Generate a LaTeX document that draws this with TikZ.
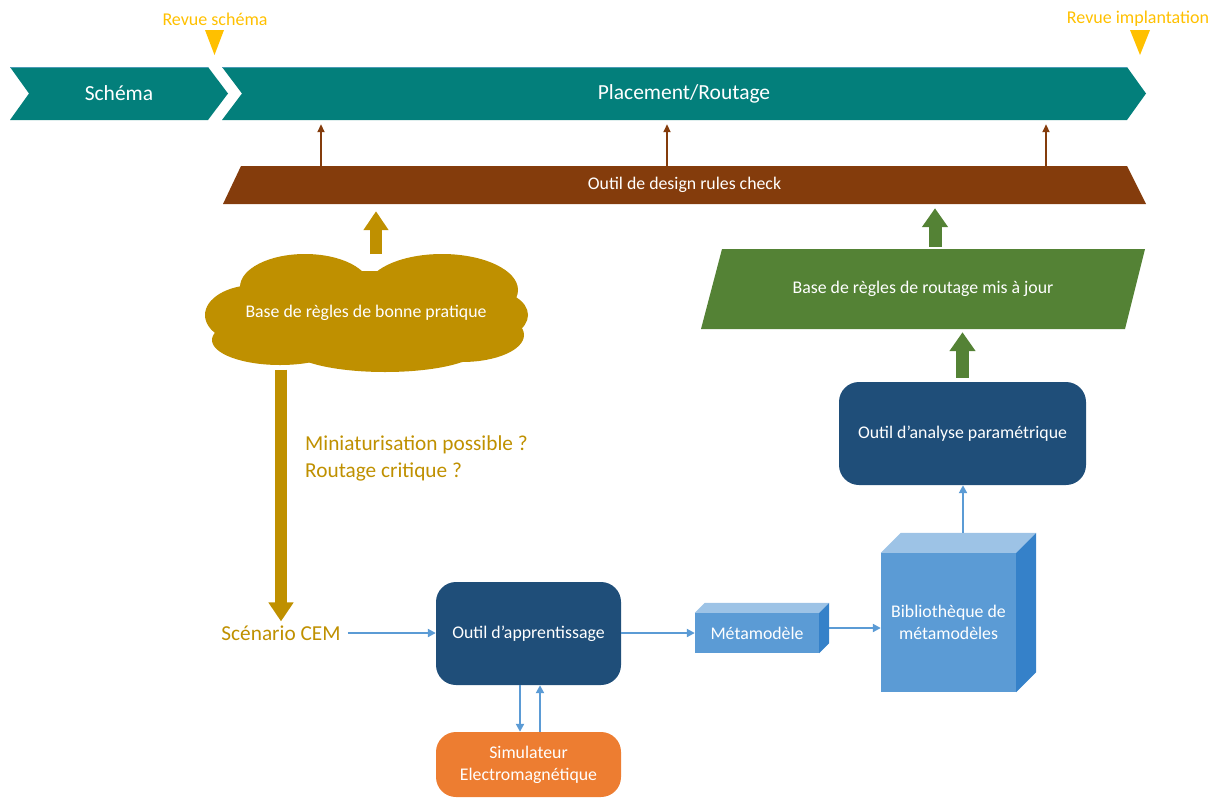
\documentclass[tikz,border=0pt]{standalone}
\usepackage{fontspec}
\setmainfont{Carlito}
\usetikzlibrary{arrows.meta,calc}
\definecolor{tealc}{HTML}{037F7B}
\definecolor{tealedge}{HTML}{4A9BB5}
\definecolor{yel}{HTML}{FFC000}
\definecolor{brownc}{HTML}{843C0C}
\definecolor{goldc}{HTML}{BF9000}
\definecolor{greenc}{HTML}{548235}
\definecolor{dkblue}{HTML}{1F4E79}
\definecolor{orangec}{HTML}{ED7D31}
\definecolor{bluec}{HTML}{5B9BD5}
\definecolor{ltblue}{HTML}{9DC3E6}
\definecolor{sideblue}{HTML}{3581C9}
\begin{document}
\begin{tikzpicture}[x=1pt,y=-1pt,
  wtext/.style={text=white,font=\fontsize{17.8}{22}\selectfont,align=center},
  bigw/.style={text=white,font=\fontsize{21.5}{25}\selectfont},
  rbox/.style={rectangle,rounded corners=20pt,fill=dkblue,wtext,minimum width=185pt,minimum height=103pt,inner sep=0pt},
  ghost/.style={rectangle,inner sep=0pt},
  barrow/.style={draw=bluec,line width=2pt,-{Triangle[length=8pt,width=8pt]}},
  brarrow/.style={draw=brownc,line width=1.8pt,-{Triangle[length=8pt,width=7pt]}},
  fatgold/.style={draw=goldc,line width=12pt,-{Triangle[length=19pt,width=24pt]}},
  fatgreen/.style={draw=greenc,line width=13pt,-{Triangle[length=19pt,width=25pt]}},
  revue/.style={text=yel,font=\fontsize{18}{21}\selectfont},
  goldtext/.style={text=goldc,font=\fontsize{21.3}{27}\selectfont,align=left},
  cube/.style={rectangle,fill=bluec,wtext,inner sep=0pt}
]
\useasboundingbox (0,0) rectangle (1214,798);

% ---- timeline chevrons
\fill[tealc] (10,67) -- (208,67) -- (228,93.5) -- (208,120) -- (10,120) -- (29,93.5) -- cycle;
\fill[tealc] (222,67) -- (1127,67) -- (1146,93.5) -- (1127,120) -- (222,120) -- (242,93.5) -- cycle;
\draw[tealedge,line width=0.6pt] (10,67) -- (208,67);
\draw[tealedge,line width=0.6pt] (222,67) -- (1127,67);
\node[ghost,bigw,minimum width=218pt,minimum height=53pt] (sch) at (119,93.5) {Schéma};
\node[ghost,bigw,minimum width=924pt,minimum height=53pt] (pl) at (684,93.5) {Placement/Routage};

% ---- review markers
\node[revue] (rs) at (215,19) {Revue schéma};
\fill[yel] (205,30) -- (224,30) -- (214.5,55) -- cycle;
\node[revue] (ri) at (1138,19) {Revue implantation};
\fill[yel] (1130,30) -- (1150,30) -- (1140,55) -- cycle;

% ---- DRC trapezoid
\fill[brownc] (241,166) -- (1127,166) -- (1146,204) -- (223,204) -- cycle;
\node[ghost,wtext,minimum width=886pt,minimum height=38pt] (drc) at (684.5,185) {Outil de design rules check};
\coordinate (b1) at (321,0);
\coordinate (b2) at (667,0);
\coordinate (b3) at (1046,0);
\foreach \c in {b1,b2,b3}
  \draw[brarrow,shorten >=4pt] (drc.north -| \c) -- (pl.south -| \c);

% ---- cloud
\begin{scope}[goldc]
\fill (305,287) ellipse [x radius=65, y radius=33];
\fill (442,290) ellipse [x radius=76, y radius=36];
\fill (255,315) ellipse [x radius=50, y radius=30];
\fill (488,315) ellipse [x radius=40, y radius=25];
\fill (280,340) ellipse [x radius=68, y radius=25];
\fill (385,348) ellipse [x radius=95, y radius=24];
\fill (462,335) ellipse [x radius=62, y radius=27];
\fill (366,313) ellipse [x radius=140, y radius=42];
\end{scope}
\node[ghost,wtext,minimum width=322pt,minimum height=117pt] (cloud) at (366,313) {Base de règles de bonne pratique};
\coordinate (cu) at (376,254);
\draw[fatgold,shorten >=7pt] (cu) -- (cu |- drc.south);

% ---- green parallelogram
\fill[greenc] (722,249) -- (1145,249) -- (1125,329) -- (701,329) -- cycle;
\node[ghost,wtext,minimum width=424pt,minimum height=80pt] (grn) at (923,289) {Base de règles de routage mis à jour};
\coordinate (g1) at (935,0);
\draw[fatgreen,shorten >=4pt,shorten <=2pt] (grn.north -| g1) -- (drc.south -| g1);

% ---- parametric analysis
\node[rbox,minimum width=247pt] (ana) at (962.5,433.5) {Outil d’analyse paramétrique};
\draw[fatgreen,shorten >=3pt,shorten <=4pt] (ana.north) -- (ana.north |- grn.south);

% ---- scenario and gold arrow
\node[goldtext,inner sep=2pt] (scen) at (281,633) {Scénario CEM};
\node[goldtext,anchor=west,inner sep=0pt] (mini) at (305,458) {Miniaturisation possible ?\\Routage critique ?};
\draw[fatgold,shorten <=-2pt,shorten >=2pt] (cloud.south -| scen) -- (scen.north);

% ---- learning tool and simulator
\node[rbox] (appr) at (528.5,633.5) {Outil d’apprentissage};
\node[rbox,fill=orangec,minimum height=65pt] (sim) at (528.5,764.5) {Simulateur\\Electromagnétique};
\draw[barrow,shorten <=5pt] (scen.east) -- (scen.east -| appr.west);
\coordinate (s1) at (520,0);
\coordinate (s2) at (540,0);
\draw[barrow] (appr.south -| s1) -- (sim.north -| s1);
\draw[barrow] (sim.north -| s2) -- (appr.south -| s2);

% ---- metamodel cuboid
\node[cube,minimum width=124pt,minimum height=40pt] (meta) at (757,633) {Métamodèle};
\fill[ltblue] (meta.north west) -- ++(10,-10) -- ($(meta.north east)+(10,-10)$) -- (meta.north east) -- cycle;
\fill[sideblue] (meta.north east) -- ++(10,-10) -- ($(meta.south east)+(10,-10)$) -- (meta.south east) -- cycle;
\draw[barrow] (appr.east |- meta.west) -- (meta.west);

% ---- library cuboid
\node[cube,minimum width=135pt,minimum height=139pt] (bib) at (948.5,622.5) {Bibliothèque de\\métamodèles};
\fill[ltblue] (bib.north west) -- ++(20,-20) -- ($(bib.north east)+(20,-20)$) -- (bib.north east) -- cycle;
\fill[sideblue] (bib.north east) -- ++(20,-20) -- ($(bib.south east)+(20,-20)$) -- (bib.south east) -- cycle;
\coordinate (ms) at ($(meta.east)+(10,-5)$);
\draw[barrow] (ms) -- (ms -| bib.west);
\coordinate (bt) at ($(bib.north)+(14.5,-20)$);
\draw[barrow] (bt) -- (bt |- ana.south);
\end{tikzpicture}
\end{document}
